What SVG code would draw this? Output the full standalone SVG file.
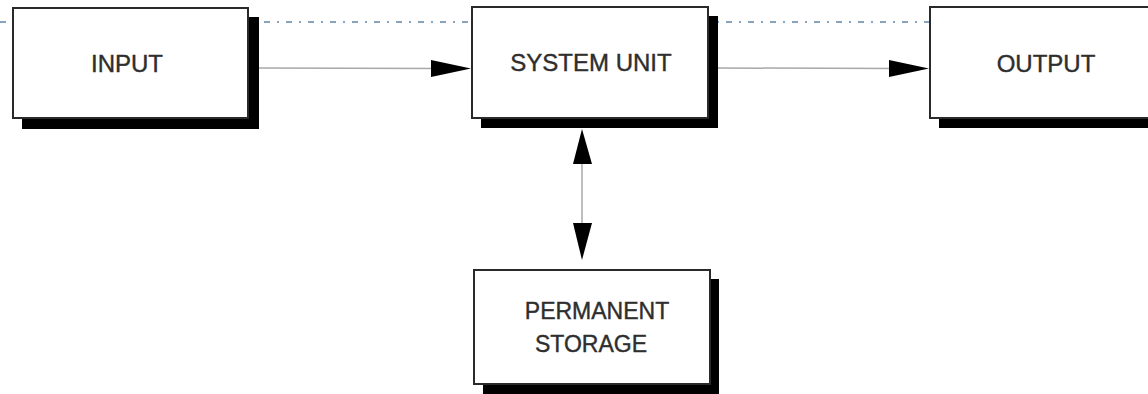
<svg xmlns="http://www.w3.org/2000/svg" width="1148" height="394" viewBox="0 0 1148 394">
  <style>
    .shadow { fill: #000; }
    .box { fill: #fff; stroke: #2a2a2a; stroke-width: 2; }
    .label { font-family: "Liberation Sans", Arial, sans-serif; font-size: 24px; fill: #2e2e2e; stroke: #2e2e2e; stroke-width: 0.4; text-anchor: middle; }
    .guide { stroke: #8aa4c0; stroke-width: 2; stroke-dasharray: 6 7 2 7; fill: none; }
    .conn { stroke: #a8a8a8; stroke-width: 1.5; fill: none; }
    .head { fill: #000; }
  </style>
  <rect width="1148" height="394" fill="#fff"/>
  <line class="guide" x1="0" y1="22" x2="930" y2="22"/>

  <g id="node-input">
    <rect class="shadow" x="22" y="17" width="237" height="112"/>
    <rect class="box" x="13" y="8" width="235" height="110"/>
    <text class="label" x="127" y="72">INPUT</text>
  </g>

  <g id="node-system-unit">
    <rect class="shadow" x="481" y="16" width="237" height="112"/>
    <rect class="box" x="472" y="7" width="236" height="111"/>
    <text class="label" x="591" y="71">SYSTEM UNIT</text>
  </g>

  <g id="node-output">
    <rect class="shadow" x="939" y="16" width="240" height="112"/>
    <rect class="box" x="930" y="7" width="240" height="111"/>
    <text class="label" x="1046" y="72">OUTPUT</text>
  </g>

  <g id="node-permanent-storage">
    <rect class="shadow" x="483" y="279" width="236" height="115"/>
    <rect class="box" x="474" y="270" width="236" height="114"/>
    <text class="label" x="597" y="319" style="font-size:23px">PERMANENT</text>
    <text class="label" x="591" y="352" style="font-size:23px">STORAGE</text>
  </g>

  <g id="connectors">
    <line class="conn" x1="259" y1="68" x2="440" y2="68.5"/>
    <polygon class="head" points="431,60 471,68.5 431,77"/>
    <line class="conn" x1="718" y1="68" x2="895" y2="68.5"/>
    <polygon class="head" points="889,60 929,68.5 889,77"/>
    <line class="conn" x1="582" y1="150" x2="582" y2="235"/>
    <polygon class="head" points="582,129 573,164 592,164"/>
    <polygon class="head" points="573,223 592,223 582,260"/>
  </g>
</svg>
